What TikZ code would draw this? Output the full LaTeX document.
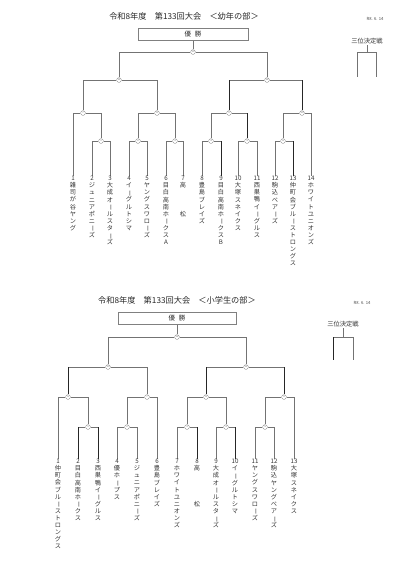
\documentclass[tikz,border=0pt]{standalone}
\usepackage{fontspec}
\setmainfont{Noto Sans CJK JP}
\usepackage{graphicx}
\usetikzlibrary{backgrounds}
\newcommand{\cho}{\rotatebox[origin=c]{-90}{ー}}
\begin{document}
\begin{tikzpicture}[x=1pt,y=-1pt,
  ln/.style={draw=black!55, line width=0.7pt},
  dk/.style={draw=black!85, line width=0.8pt},
  gm/.style={circle, draw=black!50, line width=0.3pt, fill=white, minimum size=4.8pt, inner sep=0pt, font=\fontsize{2.6}{2.6}\selectfont, text=black!60},
  team/.style={anchor=north, align=center, inner sep=0pt, font=\fontsize{6.2}{7.1}\selectfont, text=black!80},
  ttl/.style={font=\fontsize{8.2}{9}\selectfont, text=black!85},
  dt/.style={font=\fontsize{4.2}{5}\selectfont, text=black!70},
  win/.style={draw=black!50, line width=0.5pt, minimum height=12pt, inner sep=0pt, font=\fontsize{6.5}{7}\selectfont, text=black!85},
  third/.style={font=\fontsize{6.3}{7}\selectfont, text=black!80, inner sep=1pt}
]
\useasboundingbox (0,0) rectangle (405,568);

% ================= TOP: 幼年の部 =================
\node[ttl] (titleA) at (184,16) {令和8年度　第133回大会　＜幼年の部＞};
\node[dt] (dateA) at (375,19) {R8. 6. 14};
\node[win, minimum width=110pt] (wA) at (193,34) {優\hspace{4pt}勝};

\node[gm] (a13) at (193,52) {13};
\node[gm] (a11) at (119,80) {11};
\node[gm] (a12) at (267,80) {12};
\node[gm] (a7) at (83,113) {7};
\node[gm] (a8) at (157,113) {8};
\node[gm] (a9) at (229,113) {9};
\node[gm] (a10) at (302,113) {10};
\node[gm] (a1) at (101,141) {1};
\node[gm] (a2) at (138,141) {2};
\node[gm] (a3) at (175,141) {3};
\node[gm] (a4) at (211,141) {4};
\node[gm] (a5) at (247,141) {5};
\node[gm] (a6) at (283,141) {6};

\node[team] (A1) at (73,176) {1\\雑\\司\\が\\谷\\ヤ\\ン\\グ};
\node[team] (A2) at (92,176) {2\\ジ\\ュ\\ニ\\ア\\ポ\\ニ\\\cho\\ズ};
\node[team] (A3) at (110,176) {3\\大\\成\\オ\\\cho\\ル\\ス\\タ\\\cho\\ズ};
\node[team] (A4) at (129,176) {4\\イ\\\cho\\グ\\ル\\ト\\シ\\マ};
\node[team] (A5) at (147,176) {5\\ヤ\\ン\\グ\\ス\\ワ\\ロ\\\cho\\ズ};
\node[team] (A6) at (166,176) {6\\目\\白\\高\\南\\ホ\\\cho\\ク\\ス\\A};
\node[team] (A7) at (183,176) {7\\高\\[21.3pt]松};
\node[team] (A8) at (202,176) {8\\豊\\島\\ブ\\レ\\イ\\ズ};
\node[team] (A9) at (221,176) {9\\目\\白\\高\\南\\ホ\\\cho\\ク\\ス\\B};
\node[team] (A10) at (238,176) {10\\大\\塚\\ス\\ネ\\イ\\ク\\ス};
\node[team] (A11) at (257,176) {11\\西\\巣\\鴨\\イ\\\cho\\グ\\ル\\ス};
\node[team] (A12) at (275,176) {12\\駒\\込\\ベ\\ア\\\cho\\ズ};
\node[team] (A13) at (293,176) {13\\仲\\町\\会\\ブ\\ル\\\cho\\ス\\ト\\ロ\\ン\\グ\\ス};
\node[team] (A14) at (311,176) {14\\ホ\\ワ\\イ\\ト\\ユ\\ニ\\オ\\ン\\ズ};

\node[third] (thA) at (367,41) {三位決定戦};
\coordinate (tjA) at (367,52);
\coordinate (tlA) at (357,77);
\coordinate (trA) at (376,77);

% ================= BOTTOM: 小学生の部 =================
\node[ttl] (titleB) at (177,300) {令和8年度　第133回大会　＜小学生の部＞};
\node[dt] (dateB) at (362,303) {R8. 6. 14};
\node[win, minimum width=118pt] (wB) at (177,318) {優\hspace{4pt}勝};

\node[gm] (b12) at (177,337) {12};
\node[gm] (b10) at (108,367) {10};
\node[gm] (b11) at (246,367) {11};
\node[gm] (b6) at (68,397) {6};
\node[gm] (b7) at (147,397) {7};
\node[gm] (b8) at (206,397) {8};
\node[gm] (b9) at (284,397) {9};
\node[gm] (b1) at (88,427) {1};
\node[gm] (b2) at (127,427) {2};
\node[gm] (b3) at (187,427) {3};
\node[gm] (b4) at (226,427) {4};
\node[gm] (b5) at (265,427) {5};

\node[team] (B1) at (58,459) {1\\仲\\町\\会\\ブ\\ル\\\cho\\ス\\ト\\ロ\\ン\\グ\\ス};
\node[team] (B2) at (78,459) {2\\目\\白\\高\\南\\ホ\\\cho\\ク\\ス};
\node[team] (B3) at (98,459) {3\\西\\巣\\鴨\\イ\\\cho\\グ\\ル\\ス};
\node[team] (B4) at (117,459) {4\\優\\ホ\\\cho\\プ\\ス};
\node[team] (B5) at (137,459) {5\\ジ\\ュ\\ニ\\ア\\ポ\\ニ\\\cho\\ズ};
\node[team] (B6) at (157,459) {6\\豊\\島\\ブ\\レ\\イ\\ズ};
\node[team] (B7) at (177,459) {7\\ホ\\ワ\\イ\\ト\\ユ\\ニ\\オ\\ン\\ズ};
\node[team] (B8) at (197,459) {8\\高\\[28.4pt]松};
\node[team] (B9) at (216,459) {9\\大\\成\\オ\\\cho\\ル\\ス\\タ\\\cho\\ズ};
\node[team] (B10) at (235,459) {10\\イ\\\cho\\グ\\ル\\ト\\シ\\マ};
\node[team] (B11) at (255,459) {11\\ヤ\\ン\\グ\\ス\\ワ\\ロ\\\cho\\ズ};
\node[team] (B12) at (274,459) {12\\駒\\込\\ヤ\\ン\\グ\\ベ\\ア\\\cho\\ズ};
\node[team] (B13) at (294,459) {13\\大\\塚\\ス\\ネ\\イ\\ク\\ス};

\node[third] (thB) at (343,324) {三位決定戦};
\coordinate (tjB) at (343,337);
\coordinate (tlB) at (333,360);
\coordinate (trB) at (353,360);

\begin{scope}[on background layer]
  % top bracket
  \draw[ln] (wA.south) -- (a13);
  \draw[ln] (a13) -| (a11);  \draw[ln] (a13) -| (a12);
  \draw[ln] (a11) -| (a7);   \draw[ln] (a11) -| (a8);
  \draw[ln] (a12) -| (a9);   \draw[ln] (a12) -| (a10);
  \draw[ln] (a7) -| (A1.north); \draw[ln] (a7) -| (a1);
  \draw[ln] (a8) -| (a2);    \draw[ln] (a8) -| (a3);
  \draw[ln] (a9) -| (a4);    \draw[ln] (a9) -| (a5);
  \draw[ln] (a10) -| (a6);   \draw[ln] (a10) -| (A14.north);
  \draw[ln] (a1) -| (A2.north);  \draw[ln] (a1) -| (A3.north);
  \draw[ln] (a2) -| (A4.north);  \draw[ln] (a2) -| (A5.north);
  \draw[ln] (a3) -| (A6.north);  \draw[ln] (a3) -| (A7.north);
  \draw[ln] (a4) -| (A8.north);  \draw[ln] (a4) -| (A9.north);
  \draw[ln] (a5) -| (A10.north); \draw[ln] (a5) -| (A11.north);
  \draw[ln] (a6) -| (A12.north); \draw[ln] (a6) -| (A13.north);
  \draw[dk] (a9 |- a12) -- (a9);
  \draw[dk] (a10 |- a12) -- (a10);
  \draw[dk] (a5 |- a9) -- (a5);
  \draw[dk] (A9 |- a4) -- (A9.north);
  \draw[dk] (A13 |- a6) -- (A13.north);
  \draw[ln] (thA.south) -- (tjA);
  \draw[ln] (tjA) -| (tlA);  \draw[ln] (tjA) -| (trA);
  % bottom bracket
  \draw[ln] (wB.south) -- (b12);
  \draw[ln] (b12) -| (b10);  \draw[ln] (b12) -| (b11);
  \draw[ln] (b10) -| (b6);   \draw[ln] (b10) -| (b7);
  \draw[ln] (b11) -| (b8);   \draw[ln] (b11) -| (b9);
  \draw[ln] (b6) -| (B1.north);  \draw[ln] (b6) -| (b1);
  \draw[ln] (b7) -| (b2);        \draw[ln] (b7) -| (B6.north);
  \draw[ln] (b8) -| (b3);        \draw[ln] (b8) -| (b4);
  \draw[ln] (b9) -| (b5);        \draw[ln] (b9) -| (B13.north);
  \draw[ln] (b1) -| (B2.north);  \draw[ln] (b1) -| (B3.north);
  \draw[ln] (b2) -| (B4.north);  \draw[ln] (b2) -| (B5.north);
  \draw[ln] (b3) -| (B7.north);  \draw[ln] (b3) -| (B8.north);
  \draw[ln] (b4) -| (B9.north);  \draw[ln] (b4) -| (B10.north);
  \draw[ln] (b5) -| (B11.north); \draw[ln] (b5) -| (B12.north);
  \draw[dk] (b6 |- b10) -- (b6);
  \draw[dk] (b8 |- b11) -- (b8);
  \draw[dk] (b9 |- b11) -- (b9);
  \draw[dk] (B2 |- b1) -- (B2.north);
  \draw[dk] (B3 |- b1) -- (B3.north);
  \draw[dk] (B8 |- b3) -- (B8.north);
  \draw[dk] (B10 |- b4) -- (B10.north);
  \draw[ln] (thB.south) -- (tjB);
  \draw[ln] (tjB) -| (tlB);  \draw[ln] (tjB) -| (trB);
  \draw[dk] (tlB |- tjB) -- (tlB);
\end{scope}
\end{tikzpicture}
\end{document}
